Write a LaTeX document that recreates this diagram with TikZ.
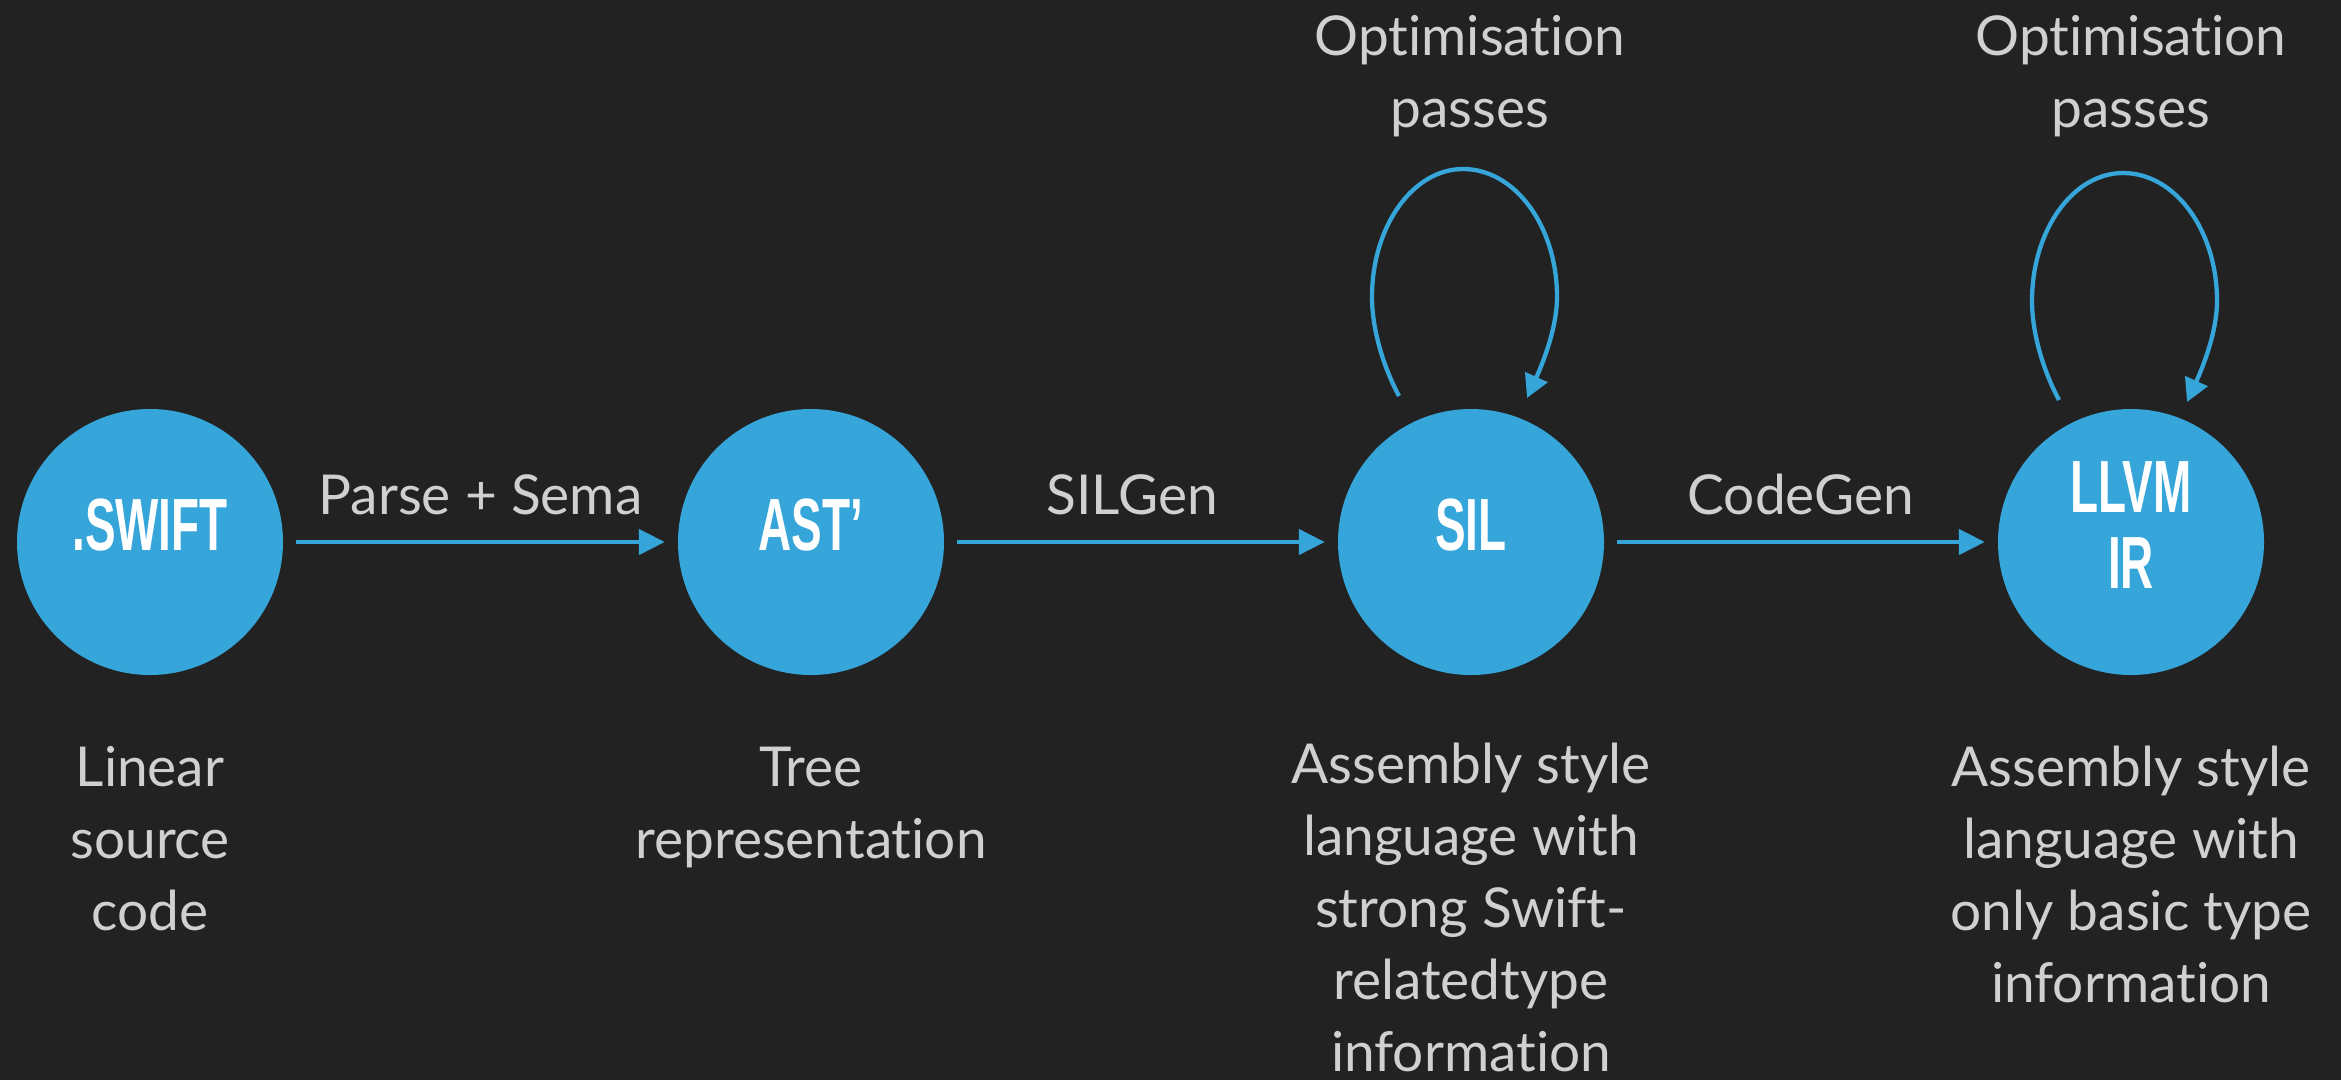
\documentclass[tikz,border=0pt]{standalone}
\usepackage{fontspec}
\usepackage{graphicx}
\setmainfont{Lato}[Ligatures=NoCommon]
\newfontfamily\stagefont{Liberation Sans}
\usetikzlibrary{arrows.meta}

\definecolor{bg}{HTML}{222222}
\definecolor{stageblue}{HTML}{35A5DA}
\definecolor{captiongray}{HTML}{D0D0D0}

% condensed look for the stage names
\newcommand\narrow[1]{\scalebox{0.62}[1]{#1}}

\begin{document}
\begin{tikzpicture}[x=1pt,y=-1pt,
  stage/.style={circle, fill=stageblue, minimum size=266pt, inner sep=0pt},
  stagetext/.style={text=white, inner sep=0pt, align=center,
    font=\stagefont\bfseries\fontsize{74}{76}\selectfont},
  caption/.style={text=captiongray, inner sep=0pt, align=center, anchor=base,
    font=\fontsize{55}{72}\selectfont},
  flow/.style={draw=stageblue, line width=4.5pt,
    -{Triangle[length=26pt,width=25pt]}, shorten <=13pt, shorten >=13pt},
  selfloop/.style={draw=stageblue, line width=4.3pt,
    -{Triangle[length=23pt,width=24pt]}},
]
% background and page size
\fill[bg] (0,0) rectangle (2341,1080);
\useasboundingbox (0,0) rectangle (2341,1080);

% compilation stages
\node[stage] (swift) at (150,542) {};
\node[stage] (ast)   at (811,542) {};
\node[stage] (sil)   at (1471,542) {};
\node[stage] (llvm)  at (2131,542) {};

\node[stagetext] (swiftname) at ([yshift=16.5pt]swift.center) {\narrow{.SWIFT}};
\node[stagetext] (astname)   at ([yshift=16.5pt]ast.center)   {\narrow{AST’}};
\node[stagetext] (silname)   at ([yshift=16.5pt]sil.center)   {\narrow{SIL}};
\node[stagetext] (llvmname)  at ([yshift=16.5pt]llvm.center)  {\narrow{LLVM}\\\narrow{IR}};

% transitions between stages
\draw[flow] (swift) -- node[caption, midway, yshift=28pt] (parselbl) {Parse + Sema} (ast);
\draw[flow] (ast) -- node[caption, midway, yshift=28pt, xshift=-9pt] (silgenlbl) {SILGen} (sil);
\draw[flow] (sil) -- node[caption, midway, yshift=28pt] (codegenlbl) {CodeGen} (llvm);

% optimisation loops
\begin{scope}[shift={(sil.center)}]
  \draw[selfloop] (-72,-146) .. controls (-86,-172) and (-99,-210) .. (-99,-245)
    .. controls (-99,-316) and (-58,-373) .. (-8,-373)
    .. controls (44,-373) and (86,-316) .. (86,-245)
    .. controls (86,-212) and (70,-175) .. (56,-144);
\end{scope}
\begin{scope}[shift={([yshift=-4pt]llvm.center)}]
  \draw[selfloop] (-72,-146) .. controls (-86,-172) and (-99,-210) .. (-99,-245)
    .. controls (-99,-316) and (-58,-373) .. (-8,-373)
    .. controls (44,-373) and (86,-316) .. (86,-245)
    .. controls (86,-212) and (70,-175) .. (56,-144);
\end{scope}

% loop captions (anchored at the baseline of their last line)
\node[caption] (silopt)  at (1470,127) {Optimisation\\passes};
\node[caption] (llvmopt) at (2131,127) {Optimisation\\passes};

% stage descriptions (anchored at the baseline of their last line)
\node[caption] (swiftdesc) at (150,930)   {Linear\\source\\code};
\node[caption] (astdesc)   at (811,858)   {Tree\\representation};
\node[caption] (sildesc)   at (1471,1071) {Assembly style\\language with\\strong Swift-\\relatedtype\\information};
\node[caption] (llvmdesc)  at (2131,1002) {Assembly style\\language with\\only basic type\\information};
\end{tikzpicture}
\end{document}
